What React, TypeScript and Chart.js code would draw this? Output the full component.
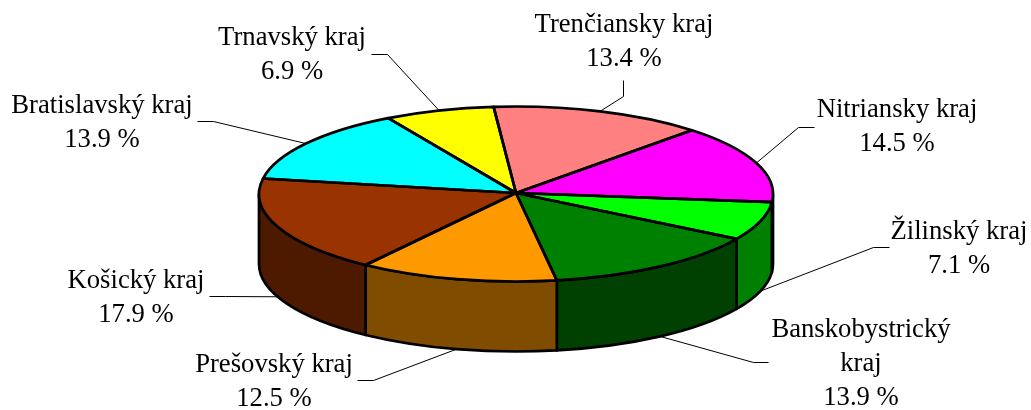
import React, { useEffect, useRef } from "react";
import { Chart, registerables } from "chart.js";

Chart.register(...registerables);

const regions = ["Trenčiansky kraj", "Nitriansky kraj", "Žilinský kraj", "Banskobystrický kraj", "Prešovský kraj", "Košický kraj", "Bratislavský kraj", "Trnavský kraj"];
const labelLines = [["Trenčiansky kraj"], ["Nitriansky kraj"], ["Žilinský kraj"], ["Banskobystrický", "kraj"], ["Prešovský kraj"], ["Košický kraj"], ["Bratislavský kraj"], ["Trnavský kraj"]];
const shares = [13.4, 14.5, 7.1, 13.9, 12.5, 17.9, 13.9, 6.9];
const topColors = ["#FF8080", "#FF00FF", "#00FF00", "#008000", "#FF9900", "#993300", "#00FFFF", "#FFFF00"];
const sideColors = ["#804040", "#800080", "#008000", "#004000", "#804D00", "#4D1A00", "#008080", "#808000"];

// label layout: text centre x, first baseline y
const labelX = [624, 897, 959, 861, 274, 136, 102, 292];
const labelY = [32, 117, 239, 337, 372, 288, 113, 45];
// leader lines: outer end and elbow
const leaderOuter = [[623, 80], [814, 127], [889, 247], [768, 362], [357, 380], [209, 296], [197, 121], [371, 54]];
const leaderElbow = [[623, 96], [798, 127], [873, 247], [753, 362], [373, 380], [225, 296], [213, 121], [387, 54]];

const CX = 516;
const CY = 194;
const RX = 257;
const RY = 87.5;
const DEPTH = 70;
const LINE = 2.7;
const LINE_HEIGHT = 34;

const pie3d = {
  id: "pie3d",
  beforeDatasetsDraw(chart: any) {
    const ctx = chart.ctx;
    const arcs = chart.getDatasetMeta(0).data;
    // side wall: only the part of each slice on the front half of the ellipse
    ctx.save();
    ctx.lineWidth = LINE;
    ctx.strokeStyle = "#000";
    ctx.lineJoin = "round";
    arcs.forEach((arc: any, i: number) => {
      const twoPi = Math.PI * 2;
      let s = arc.startAngle;
      let e = arc.endAngle;
      while (s < -Math.PI / 2) { s += twoPi; e += twoPi; }
      for (const shift of [0, -twoPi]) {
        const a = Math.max(s + shift, 0);
        const b = Math.min(e + shift, Math.PI);
        if (b <= a) continue;
        ctx.beginPath();
        ctx.ellipse(CX, CY, RX, RY, 0, a, b);
        ctx.ellipse(CX, CY + DEPTH, RX, RY, 0, b, a, true);
        ctx.closePath();
        ctx.fillStyle = sideColors[i];
        ctx.fill();
        ctx.stroke();
      }
    });
    ctx.restore();
    // top face: the library's arcs, squashed into the ellipse
    const first = arcs[0];
    ctx.save();
    ctx.translate(CX, CY);
    ctx.scale(RX / first.outerRadius, RY / first.outerRadius);
    ctx.translate(-first.x, -first.y);
  },
  afterDatasetsDraw(chart: any) {
    const ctx = chart.ctx;
    ctx.restore();
    const arcs = chart.getDatasetMeta(0).data;
    ctx.save();
    ctx.lineWidth = LINE;
    ctx.strokeStyle = "#000";
    ctx.lineJoin = "round";
    arcs.forEach((arc: any) => {
      ctx.beginPath();
      ctx.moveTo(CX, CY - 1);
      ctx.ellipse(CX, CY, RX, RY, 0, arc.startAngle, arc.endAngle);
      ctx.closePath();
      ctx.stroke();
    });
    // leader lines
    ctx.lineWidth = 1;
    arcs.forEach((arc: any, i: number) => {
      const mid = (arc.startAngle + arc.endAngle) / 2;
      const sn = Math.sin(mid);
      const x = CX + RX * Math.cos(mid);
      const y = CY + RY * sn + (sn > 0 ? DEPTH : 0);
      ctx.beginPath();
      ctx.moveTo(leaderOuter[i][0] + 0.5, leaderOuter[i][1] + 0.5);
      ctx.lineTo(leaderElbow[i][0] + 0.5, leaderElbow[i][1] + 0.5);
      ctx.lineTo(x, y);
      ctx.stroke();
    });
    // labels
    ctx.fillStyle = "#000";
    ctx.font = '26.67px "Liberation Serif"';
    ctx.textAlign = "center";
    ctx.textBaseline = "alphabetic";
    shares.forEach((v, i) => {
      const lines = [...labelLines[i], `${v.toFixed(1)} %`];
      lines.forEach((t, k) => ctx.fillText(t, labelX[i], labelY[i] + k * LINE_HEIGHT));
    });
    ctx.restore();
  },
};

export default function App() {
  const ref = useRef<HTMLCanvasElement>(null);
  useEffect(() => {
    const chart = new Chart(ref.current as HTMLCanvasElement, {
      type: "pie",
      data: {
        labels: regions,
        datasets: [{ data: shares, backgroundColor: topColors, borderWidth: 0 }],
      },
      options: {
        animation: false,
        responsive: false,
        rotation: -5,
        layout: { padding: 0 },
        plugins: { legend: { display: false }, tooltip: { enabled: false }, title: { display: false } },
      },
      plugins: [pie3d],
    } as any);
    return () => chart.destroy();
  }, []);
  return (
    <div style={{ position: "absolute", left: 0, top: 0, width: 1031, height: 410, background: "#fff" }}>
      <canvas ref={ref} width={1031} height={410} style={{ display: "block" }} />
    </div>
  );
}
